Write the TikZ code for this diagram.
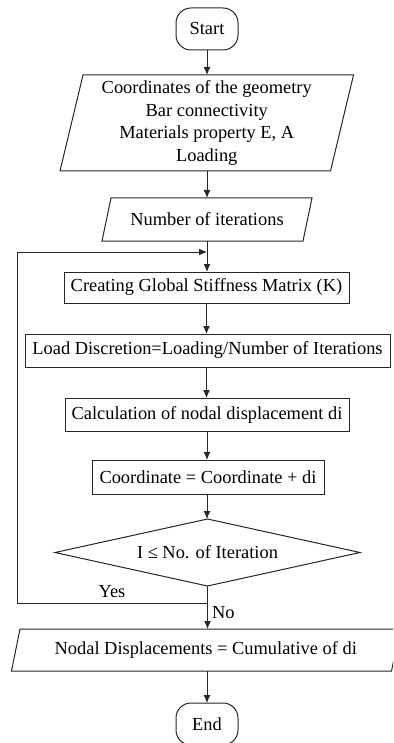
\documentclass[tikz,border=0pt]{standalone}
\usepackage{fontspec}
\setmainfont{Liberation Serif}
\usetikzlibrary{arrows.meta}
\begin{document}
\begin{tikzpicture}[x=1pt,y=-1pt,
  every node/.style={font=\fontsize{18.4}{22.7}\selectfont, inner sep=0pt, outer sep=0pt, text=black},
  ln/.style={line width=1pt, draw=black!85},
  stadium/.style={ln, draw, rounded corners=15pt, minimum width=62pt, minimum height=42pt},
  procbox/.style={ln, draw, minimum width=#1, minimum height=33pt},
  hold/.style={align=center},
  arr/.style={ln, -{Latex[length=8pt,width=7pt]}}
]
\useasboundingbox (0,0) rectangle (393,743);
\clip (0,0) rectangle (393,743);

% terminals
\node[stadium] (start) at (207,29) {Start};
\node[stadium] (end) at (207,724) {End};

% input parallelograms (text holders + outlines)
\node[hold, minimum width=270.5pt, minimum height=96pt] (p1) at (206.75,123)
  {Coordinates of the geometry\\Bar connectivity\\Materials property E, A\\Loading};
\draw[ln] ([xshift=11.5pt]p1.north west) -- ([xshift=11.5pt]p1.north east)
  -- ([xshift=-11.5pt]p1.south east) -- ([xshift=-11.5pt]p1.south west) -- cycle;

\node[hold, minimum width=201pt, minimum height=43pt] (p2) at (207,219.5) {Number of iterations};
\draw[ln] ([xshift=4.5pt]p2.north west) -- ([xshift=4.5pt]p2.north east)
  -- ([xshift=-4.5pt]p2.south east) -- ([xshift=-4.5pt]p2.south west) -- cycle;

% process boxes
\node[procbox=285pt, minimum height=31pt] (create) at (206.5,287.5) {Creating Global Stiffness Matrix (K)};
\node[procbox=365pt] (load) at (207.5,350.5) {Load Discretion=Loading/Number of Iterations};
\node[procbox=284pt] (calc) at (207,414.5) {Calculation of nodal displacement di};
\node[procbox=232pt, minimum height=34pt] (coord) at (208,477) {Coordinate = Coordinate + di};

% decision
\node[hold, minimum width=305pt, minimum height=67pt] (dec) at (207.5,552.5) {I ≤ No. of Iteration};
\draw[ln] (dec.north) -- (dec.east) -- (dec.south) -- (dec.west) -- cycle;

% output parallelogram
\node[hold, minimum width=380pt, minimum height=42pt] (out) at (205.75,650) {Nodal Displacements = Cumulative of di};
\draw[ln] ([xshift=4.25pt]out.north west) -- ([xshift=4.25pt]out.north east)
  -- ([xshift=-4.25pt]out.south east) -- ([xshift=-4.25pt]out.south west) -- cycle;

% connectors
\coordinate (merge) at (207,252);
\coordinate (yesj) at (207.5,603);
\coordinate (loopx) at (17,603);

\draw[arr] (start.south) -- (start.south |- p1.north);
\draw[arr] (start.south |- p1.south) -- (start.south |- p2.north);
\draw[arr] (p2.south) -- (p2.south |- create.north);
\draw[arr] (create.south) -- (create.south |- load.north);
\draw[arr] (create.south |- load.south) -- (create.south |- calc.north);
\draw[arr] (calc.south) -- (calc.south |- coord.north);
\draw[arr] (calc.south |- coord.south) -- (calc.south |- dec.north);
\draw[ln] (dec.south) -- (yesj);
\draw[arr] (yesj) -- (yesj |- out.north);
\draw[arr] (yesj) -- (loopx) |- (merge);
\draw[arr] (end.north |- out.south) -- (end.north);

% labels
\node (yes) at (112,592) {Yes};
\node[anchor=west] (no) at (212,613) {No};
\end{tikzpicture}
\end{document}
